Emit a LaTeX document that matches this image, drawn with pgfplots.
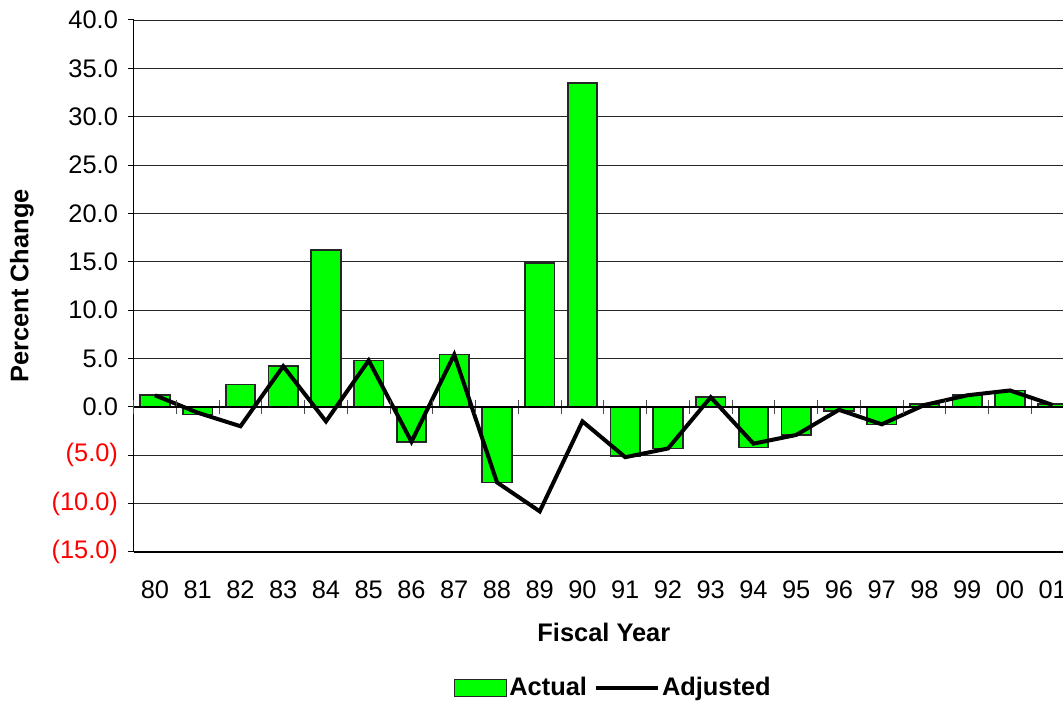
\documentclass[border=0pt]{standalone}
\usepackage{pgfplots}
\pgfplotsset{compat=1.18}
\usepackage{fontspec}
\setmainfont{Liberation Sans}
\definecolor{barg}{RGB}{0,255,0}
\pgfplotsset{
  barleg/.style={legend image code/.code={\draw[##1] (0bp,-8.5bp) rectangle (52bp,8.5bp);}},
  lineleg/.style={legend image code/.code={\draw[##1] (0bp,0bp) -- (62bp,0bp);}},
}
\newcommand{\fs}{\fontsize{25.5}{30}\selectfont}
\begin{document}
\fs
\begin{tikzpicture}[x=1bp,y=1bp]
\useasboundingbox (0,0) rectangle (1063,704);
\clip (0,0) rectangle (1063,704);
\begin{axis}[
  at={(133.6bp,152bp)}, anchor=south west,
  scale only axis, width=940.5bp, height=532bp,
  xmin=-0.5, xmax=21.5, ymin=-15, ymax=40,
  axis lines*=left,
  axis line style={black, line width=1.2bp},
  ytick={-15,-10,...,40},
  yticklabels={\textcolor{red}{(15.0)},\textcolor{red}{(10.0)},\textcolor{red}{(5.0)},0.0,5.0,10.0,15.0,20.0,25.0,30.0,35.0,40.0},
  xtick={0,...,21},
  xticklabels={80,81,82,83,84,85,86,87,88,89,90,91,92,93,94,95,96,97,98,99,00,01},
  x tick style={draw=none},
  y tick style={black, line width=1bp},
  tick align=outside, major tick length=6bp,
  ymajorgrids, grid style={black!85, line width=0.8bp},
  xticklabel style={font=\fs, yshift=-14.4bp},
  yticklabel style={font=\fs, xshift=-1bp},
  xlabel={\bfseries Fiscal Year},
  ylabel={\bfseries Percent Change},
  xlabel style={at={(rel axis cs:0.5,-0.1504)}, anchor=center, font=\fs},
  ylabel style={at={(rel axis cs:-0.1187,0.5)}, anchor=center, font=\fs},
  legend columns=2,
  legend style={at={(rel axis cs:0.51,-0.256)}, anchor=center, draw=none, fill=none,
    font=\fs\bfseries,
    /tikz/every even column/.append style={column sep=5bp}},
]
\addplot[ybar, bar width=0.69, fill=barg, draw=black!85, line width=1.6bp, barleg]
coordinates {(0,1.2)(1,-0.8)(2,2.3)(3,4.2)(4,16.2)(5,4.8)(6,-3.6)(7,5.4)(8,-7.8)(9,14.9)(10,33.5)(11,-5.1)(12,-4.3)(13,1.0)(14,-4.2)(15,-2.9)(16,-0.4)(17,-1.8)(18,0.3)(19,1.25)(20,1.7)(21,0.3)};
\addlegendentry{Actual}
\addplot[black, line width=4bp, mark=none, lineleg]
coordinates {(0,1.2)(1,-0.6)(2,-2.0)(3,4.2)(4,-1.5)(5,4.8)(6,-3.6)(7,5.4)(8,-7.8)(9,-10.8)(10,-1.5)(11,-5.2)(12,-4.3)(13,1.0)(14,-3.8)(15,-2.9)(16,-0.3)(17,-1.8)(18,0.2)(19,1.2)(20,1.7)(21,0.2)};
\addlegendentry{Adjusted}
\end{axis}
\begin{axis}[
  at={(133.6bp,152bp)}, anchor=south west,
  scale only axis, width=940.5bp, height=532bp,
  xmin=-0.5, xmax=21.5, ymin=-15, ymax=40,
  axis x line*=middle, axis y line=none,
  axis line style={black, line width=1.6bp},
  xtick={-0.5,0.5,...,21.5}, xticklabels={},
  tick align=center, major tick length=14bp,
  x tick style={black!70, line width=1bp},
]
\end{axis}
\end{tikzpicture}
\end{document}
